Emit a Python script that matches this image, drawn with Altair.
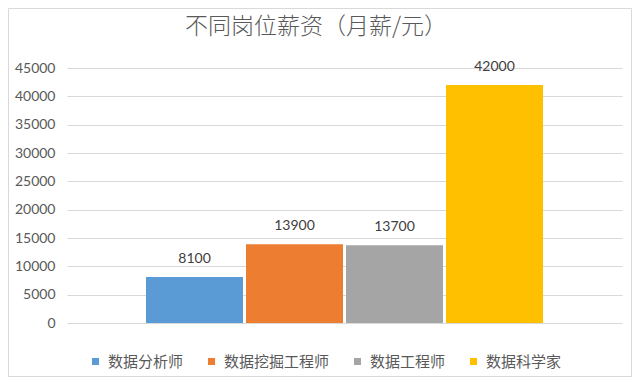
import altair as alt
import pandas as pd

roles = ["数据分析师", "数据挖掘工程师", "数据工程师", "数据科学家"]
salaries = [8100, 13900, 13700, 42000]
colors = ["#5B9BD5", "#ED7D31", "#A5A5A5", "#FFC000"]
y_ticks = [0, 5000, 10000, 15000, 20000, 25000, 30000, 35000, 40000, 45000]
title_text = "不同岗位薪资（月薪/元）"

df = pd.DataFrame({"role": roles, "salary": salaries})

W, H = 555, 255

x_enc = alt.X("role:N", sort=roles, axis=None,
              scale=alt.Scale(paddingInner=0.03, paddingOuter=0.79))
y_scale = alt.Scale(domain=[0, 45000], nice=False)
y_axis = alt.Axis(values=y_ticks, format="d", labelOverlap=False,
                  grid=True, gridColor="#d9d9d9",
                  domain=False, ticks=False, labelPadding=12,
                  labelFont="Lato", labelFontSize=14,
                  labelColor="#595959")
y_enc = alt.Y("salary:Q", scale=y_scale, title=None, axis=y_axis)

bars = alt.Chart(df).mark_bar().encode(
    x=x_enc,
    y=y_enc,
    color=alt.Color("role:N", sort=roles,
                    scale=alt.Scale(domain=roles, range=colors),
                    legend=alt.Legend(title=None, orient="none",
                                      legendX=21, legendY=286,
                                      direction="horizontal",
                                      symbolType="square", symbolSize=49,
                                      symbolStrokeWidth=0,
                                      labelFont="Noto Sans CJK SC",
                                      labelFontSize=15, labelColor="#595959",
                                      labelOffset=5, columnPadding=20,
                                      gridAlign="none")),
)

labels = alt.Chart(df).mark_text(
    baseline="middle", dy=-18, font="Lato", fontSize=14, color="#404040"
).encode(
    x=x_enc,
    y=y_enc,
    text=alt.Text("salary:Q", format="d"),
)

one = pd.DataFrame({"t": [title_text]})

frame = alt.Chart(one).mark_rect(
    filled=False, stroke="#d9d9d9", strokeWidth=1
).encode(
    x=alt.value(-58.5), x2=alt.value(564.5), y=alt.value(-59.5), y2=alt.value(308.5)
)

title = alt.Chart(one).mark_text(
    font="Noto Sans CJK SC", fontSize=23, fontWeight=300, color="#595959",
    align="center", baseline="middle"
).encode(
    x=alt.value(249), y=alt.value(-41), text="t:N"
)

chart = alt.layer(bars, labels, frame, title).properties(
    width=W, height=H,
    autosize=alt.AutoSizeParams(type="none"),
    padding={"left": 59, "top": 60, "right": 10, "bottom": 54},
).configure_view(stroke=None).configure_axis(gridWidth=1)

chart.save("out.html", embed_options={"renderer": "svg", "actions": False})
